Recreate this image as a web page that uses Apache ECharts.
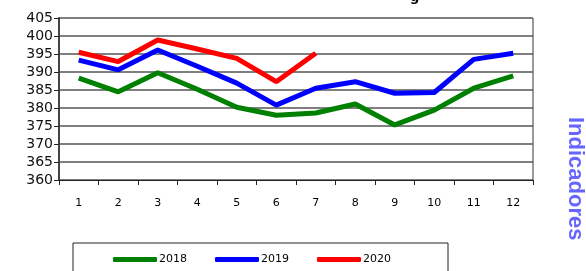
<!DOCTYPE html>
<html>
<head>
<meta charset="utf-8">
<script src="https://cdn.jsdelivr.net/npm/echarts@6/dist/echarts.min.js"></script>
<style>
html, body { margin: 0; padding: 0; background: #fff; }
#chart { width: 586px; height: 271px; }
</style>
</head>
<body>
<div id="chart"></div>
<script>
var meses = ['1', '2', '3', '4', '5', '6', '7', '8', '9', '10', '11', '12'];
var serie2018 = [388.3, 384.5, 389.8, 385.2, 380.2, 378.0, 378.6, 381.1, 375.3, 379.4, 385.5, 388.9];
var serie2019 = [393.3, 390.6, 396.1, 391.6, 386.9, 380.8, 385.5, 387.3, 384.1, 384.3, 393.5, 395.2];
var serie2020 = [395.5, 392.9, 398.9, 396.4, 393.8, 387.3, 395.2];

var myChart = echarts.init(document.getElementById('chart'));

var option = {
    animation: false,
    grid: { left: 59, top: 18, width: 474, height: 162 },
    legend: {
        bottom: 1,
        left: 108,
        itemGap: 28,
        itemWidth: 44,
        itemHeight: 5,
        icon: 'roundRect',
        textStyle: { fontFamily: 'DejaVu Sans', fontSize: 11, color: '#000', padding: [0, 0, 0, -3] },
        data: ['2018', '2019', '2020']
    },
    xAxis: {
        type: 'category',
        data: meses,
        boundaryGap: true,
        axisLine: { lineStyle: { color: '#222', width: 1 } },
        axisTick: { show: true, length: 5, inside: false, lineStyle: { color: '#222' } },
        axisLabel: { fontFamily: 'DejaVu Sans', fontSize: 11, color: '#000', margin: 18 }
    },
    yAxis: {
        type: 'value',
        min: 360,
        max: 405,
        interval: 5,
        axisLine: { show: true, lineStyle: { color: '#444', width: 2 } },
        axisTick: { show: true, length: 5, lineStyle: { color: '#222' } },
        axisLabel: { fontFamily: 'DejaVu Sans', fontSize: 14, color: '#111', margin: 6 },
        splitLine: { lineStyle: { color: '#555', width: 1.5 } }
    },
    series: [
        { name: '2018', type: 'line', data: serie2018, symbol: 'none', lineStyle: { color: '#008000', width: 5 }, itemStyle: { color: '#008000' } },
        { name: '2019', type: 'line', data: serie2019, symbol: 'none', lineStyle: { color: '#0000ff', width: 5 }, itemStyle: { color: '#0000ff' } },
        { name: '2020', type: 'line', data: serie2020, symbol: 'none', lineStyle: { color: '#ff0000', width: 5 }, itemStyle: { color: '#ff0000' } }
    ],
    graphic: [
        { type: 'rect', shape: { x: 533, y: 18, width: 0, height: 162 }, style: { stroke: '#999', lineWidth: 2, fill: null } },
        { type: 'rect', shape: { x: 73, y: 243, width: 375, height: 40 }, style: { stroke: '#222', lineWidth: 1, fill: null }, z: -1 },
        { type: 'text', x: 410, y: -9, style: { text: 'g', font: 'bold 13px DejaVu Sans', fill: '#000' } },
        { type: 'text', x: 586, y: 117, rotation: -Math.PI / 2, style: { text: 'Indicadores', font: 'bold 22px Liberation Sans', fill: '#6666ff' } }
    ]
};

myChart.setOption(option);
</script>
</body>
</html>
